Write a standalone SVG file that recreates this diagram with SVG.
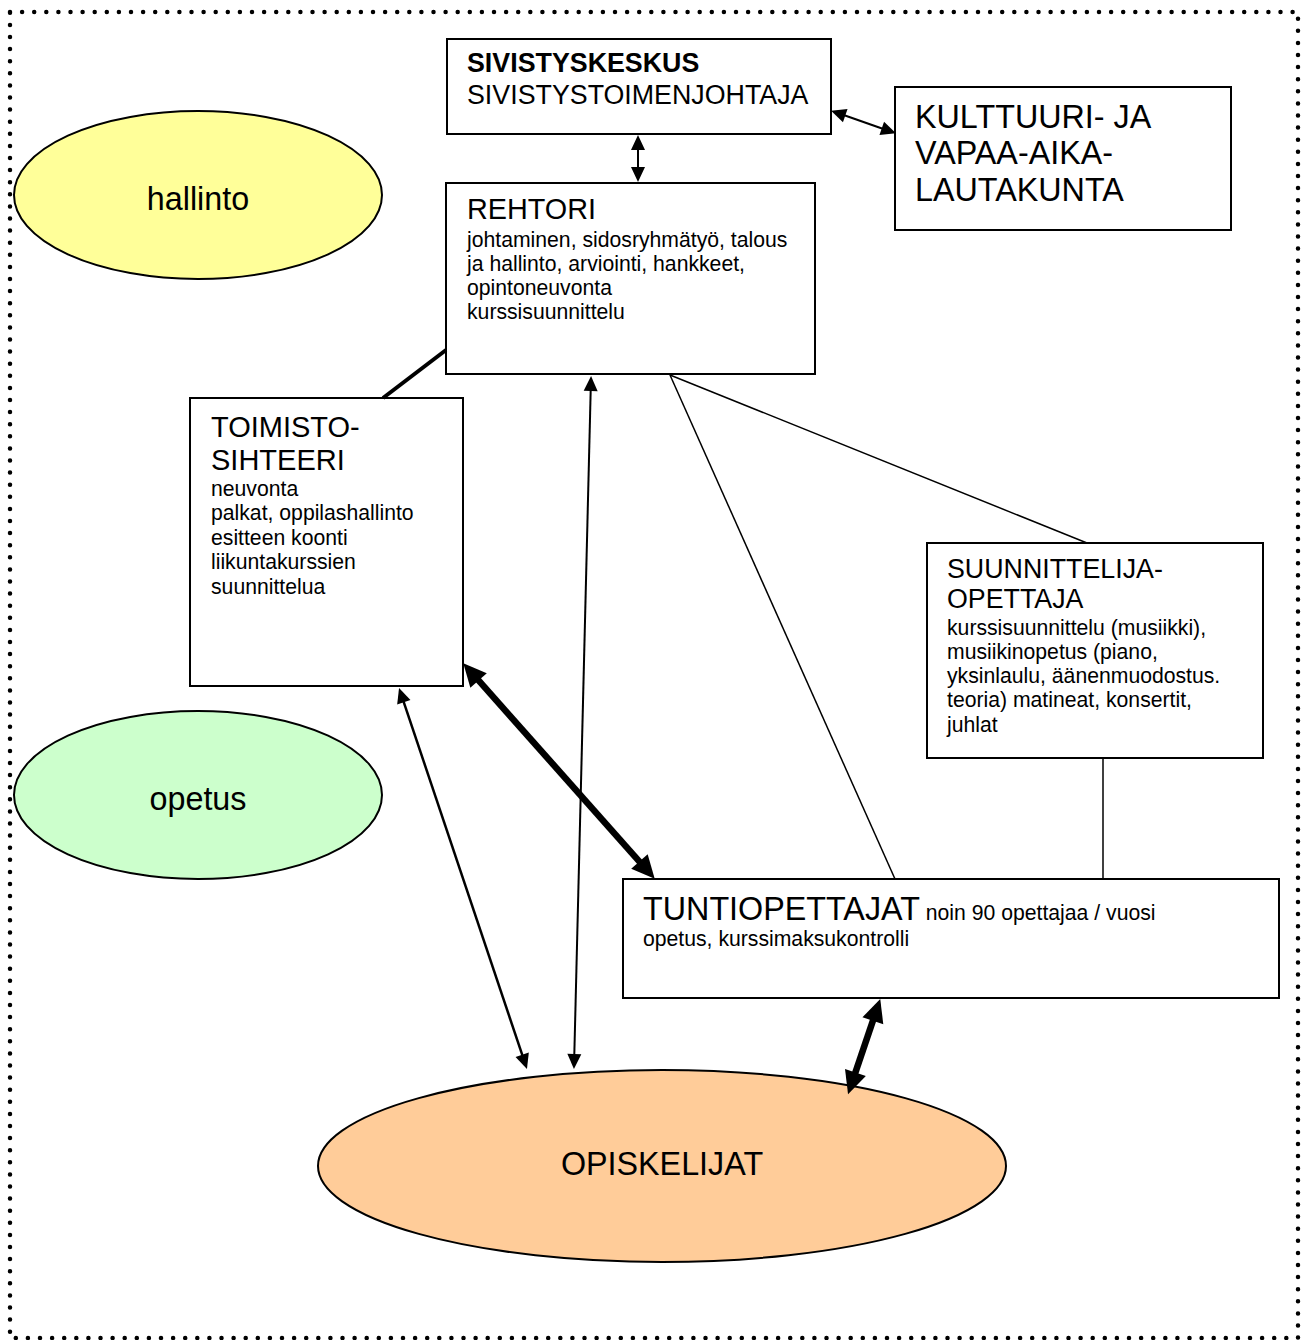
<svg xmlns="http://www.w3.org/2000/svg" width="1301" height="1340" viewBox="0 0 1301 1340">
<style>
.box{fill:#fff;stroke:#000;stroke-width:2}
.ell{stroke:#000;stroke-width:2}
text{font-family:"Liberation Sans",Arial,sans-serif;fill:#000}
.big{font-size:26.8px}
.sm{font-size:21.2px}
.c{stroke:#000;fill:none}
</style>
<defs>
<marker id="a" markerUnits="userSpaceOnUse" markerWidth="15" markerHeight="14" refX="1" refY="7" orient="auto-start-reverse" overflow="visible"><path d="M0,0 L15,7 L0,14 z" fill="#000"/></marker>
<marker id="b" markerUnits="userSpaceOnUse" markerWidth="23" markerHeight="22" refX="1" refY="11" orient="auto-start-reverse" overflow="visible"><path d="M0,0 L23,11 L0,22 z" fill="#000"/></marker>
</defs>
<rect x="10" y="12" width="1288" height="1326" fill="none" stroke="#000" stroke-width="4.5" stroke-linecap="round" stroke-dasharray="0 12.1"/>

<g id="hallinto"><ellipse class="ell" cx="198" cy="195" rx="184" ry="84" fill="#FFFF99"/><text x="198" y="210" font-size="32.3" text-anchor="middle">hallinto</text></g>
<g id="opetus"><ellipse class="ell" cx="198" cy="795" rx="184" ry="84" fill="#CCFFCC"/><text x="198" y="810" font-size="32.3" text-anchor="middle">opetus</text></g>
<g id="opiskelijat"><ellipse class="ell" cx="662" cy="1166" rx="344" ry="96" fill="#FFCC99"/><text x="662" y="1175" font-size="32.3" text-anchor="middle">OPISKELIJAT</text></g>

<g id="sivistyskeskus"><rect class="box" x="447" y="39" width="384" height="95"/><text x="467" y="72" class="big" font-weight="bold">SIVISTYSKESKUS</text><text x="467" y="104" class="big">SIVISTYSTOIMENJOHTAJA</text></g>
<g id="lautakunta"><rect class="box" x="895" y="87" width="336" height="143"/><text x="915" y="128" font-size="32.3">KULTTUURI- JA</text><text x="915" y="164" font-size="32.3">VAPAA-AIKA-</text><text x="915" y="201" font-size="32.3">LAUTAKUNTA</text></g>
<g id="rehtori"><rect class="box" x="446" y="183" width="369" height="191"/><text x="467" y="219" font-size="28.8">REHTORI</text>
<text class="sm" x="467" y="247">johtaminen, sidosryhmätyö, talous</text><text class="sm" x="467" y="271">ja hallinto, arviointi, hankkeet,</text><text class="sm" x="467" y="295">opintoneuvonta</text><text class="sm" x="467" y="319">kurssisuunnittelu</text></g>
<g id="toimistosihteeri"><rect class="box" x="190" y="398" width="273" height="288"/><text x="211" y="437" font-size="29">TOIMISTO-</text><text x="211" y="470" font-size="29">SIHTEERI</text>
<text class="sm" x="211" y="496">neuvonta</text><text class="sm" x="211" y="520">palkat, oppilashallinto</text><text class="sm" x="211" y="545">esitteen koonti</text><text class="sm" x="211" y="569">liikuntakurssien</text><text class="sm" x="211" y="594">suunnittelua</text></g>
<g id="suunnittelija"><rect class="box" x="927" y="543" width="336" height="215"/><text x="947" y="578" class="big">SUUNNITTELIJA-</text><text x="947" y="608" class="big">OPETTAJA</text>
<text class="sm" x="947" y="635">kurssisuunnittelu (musiikki),</text><text class="sm" x="947" y="659">musiikinopetus (piano,</text><text class="sm" x="947" y="683">yksinlaulu, äänenmuodostus.</text><text class="sm" x="947" y="707">teoria) matineat, konsertit,</text><text class="sm" x="947" y="732">juhlat</text></g>
<g id="tuntiopettajat"><rect class="box" x="623" y="879" width="656" height="119"/><text x="643" y="920"><tspan font-size="32.3">TUNTIOPETTAJAT</tspan><tspan font-size="21.2"> noin 90 opettajaa / vuosi</tspan></text>
<text class="sm" x="643" y="946">opetus, kurssimaksukontrolli</text></g>

<g id="connectors">
<line class="c" x1="638" y1="149" x2="638" y2="168" stroke-width="2" marker-start="url(#a)" marker-end="url(#a)"/>
<line class="c" x1="844.3" y1="115.3" x2="882.7" y2="128.7" stroke-width="2" marker-start="url(#a)" marker-end="url(#a)"/>
<line class="c" x1="446" y1="350" x2="383" y2="398" stroke-width="4"/>
<line class="c" x1="590.7" y1="390" x2="574.3" y2="1055" stroke-width="2" marker-start="url(#a)" marker-end="url(#a)"/>
<line class="c" x1="403.5" y1="701.3" x2="522.5" y2="1055.7" stroke-width="2.5" marker-start="url(#a)" marker-end="url(#a)"/>
<line class="c" x1="477.9" y1="679.7" x2="640.1" y2="862.3" stroke-width="6.5" marker-start="url(#b)" marker-end="url(#b)"/>
<line class="c" x1="670" y1="375" x2="895" y2="879" stroke-width="1.5"/>
<line class="c" x1="670" y1="375" x2="1087" y2="543" stroke-width="1.5"/>
<line class="c" x1="1103" y1="758" x2="1103" y2="879" stroke-width="1.5"/>
<line class="c" x1="873.2" y1="1019.9" x2="855.1" y2="1073.4" stroke-width="6.5" marker-start="url(#b)" marker-end="url(#b)"/>
</g>
</svg>
